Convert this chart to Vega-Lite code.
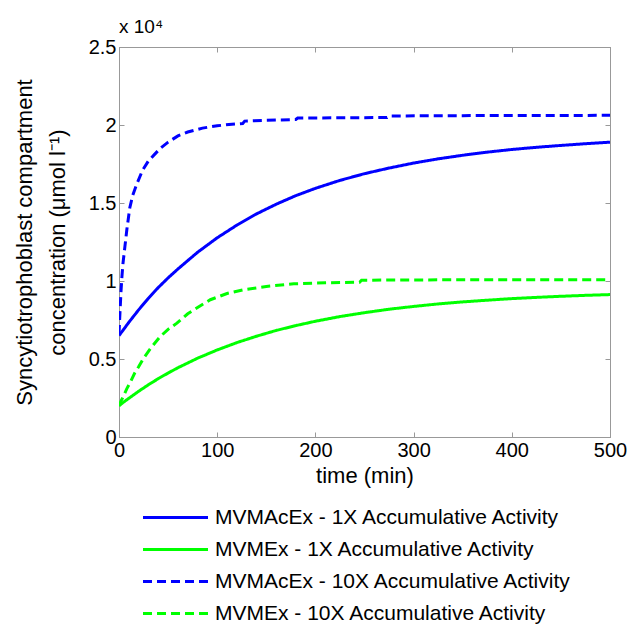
{
  "$schema": "https://vega.github.io/schema/vega-lite/v6.json",
  "width": 491,
  "height": 390,
  "autosize": {"type": "none"},
  "padding": {"left": 119, "top": 47, "right": 31, "bottom": 187},
  "title": {"text": "x 10⁴", "anchor": "start", "frame": "group", "fontSize": 19, "fontWeight": "normal", "font": "Liberation Sans", "color": "#000000", "offset": 0},
  "config": {
    "view": {"stroke": "#999999", "strokeWidth": 1},
    "axis": {"domainColor": "#999999", "tickColor": "#999999", "labelColor": "#000000", "labelFont": "Liberation Sans", "labelFontSize": 20, "titleFont": "Liberation Sans", "titleFontSize": 22, "titleFontWeight": "normal", "titleColor": "#000000", "grid": false, "tickSize": -5, "labelPadding": 8, "format": "~r", "labelFlush": false},
    "legend": {"labelFont": "Liberation Sans", "labelFontSize": 21, "labelColor": "#000000", "labelLimit": 600}
  },
  "data": {"values": [
    {"t": 0, "v": 0.65, "series": "MVMAcEx - 1X Accumulative Activity"},
    {"t": 5, "v": 0.692, "series": "MVMAcEx - 1X Accumulative Activity"},
    {"t": 10, "v": 0.735, "series": "MVMAcEx - 1X Accumulative Activity"},
    {"t": 20, "v": 0.815, "series": "MVMAcEx - 1X Accumulative Activity"},
    {"t": 30, "v": 0.89, "series": "MVMAcEx - 1X Accumulative Activity"},
    {"t": 40, "v": 0.958, "series": "MVMAcEx - 1X Accumulative Activity"},
    {"t": 50, "v": 1.02, "series": "MVMAcEx - 1X Accumulative Activity"},
    {"t": 60, "v": 1.077, "series": "MVMAcEx - 1X Accumulative Activity"},
    {"t": 80, "v": 1.184, "series": "MVMAcEx - 1X Accumulative Activity"},
    {"t": 100, "v": 1.277, "series": "MVMAcEx - 1X Accumulative Activity"},
    {"t": 120, "v": 1.358, "series": "MVMAcEx - 1X Accumulative Activity"},
    {"t": 140, "v": 1.43, "series": "MVMAcEx - 1X Accumulative Activity"},
    {"t": 160, "v": 1.492, "series": "MVMAcEx - 1X Accumulative Activity"},
    {"t": 180, "v": 1.547, "series": "MVMAcEx - 1X Accumulative Activity"},
    {"t": 200, "v": 1.594, "series": "MVMAcEx - 1X Accumulative Activity"},
    {"t": 225, "v": 1.645, "series": "MVMAcEx - 1X Accumulative Activity"},
    {"t": 250, "v": 1.688, "series": "MVMAcEx - 1X Accumulative Activity"},
    {"t": 275, "v": 1.724, "series": "MVMAcEx - 1X Accumulative Activity"},
    {"t": 300, "v": 1.756, "series": "MVMAcEx - 1X Accumulative Activity"},
    {"t": 325, "v": 1.783, "series": "MVMAcEx - 1X Accumulative Activity"},
    {"t": 350, "v": 1.806, "series": "MVMAcEx - 1X Accumulative Activity"},
    {"t": 375, "v": 1.826, "series": "MVMAcEx - 1X Accumulative Activity"},
    {"t": 400, "v": 1.843, "series": "MVMAcEx - 1X Accumulative Activity"},
    {"t": 425, "v": 1.857, "series": "MVMAcEx - 1X Accumulative Activity"},
    {"t": 450, "v": 1.869, "series": "MVMAcEx - 1X Accumulative Activity"},
    {"t": 475, "v": 1.88, "series": "MVMAcEx - 1X Accumulative Activity"},
    {"t": 500, "v": 1.89, "series": "MVMAcEx - 1X Accumulative Activity"},

    {"t": 0, "v": 0.2, "series": "MVMEx - 1X Accumulative Activity"},
    {"t": 5, "v": 0.225, "series": "MVMEx - 1X Accumulative Activity"},
    {"t": 10, "v": 0.248, "series": "MVMEx - 1X Accumulative Activity"},
    {"t": 20, "v": 0.293, "series": "MVMEx - 1X Accumulative Activity"},
    {"t": 30, "v": 0.335, "series": "MVMEx - 1X Accumulative Activity"},
    {"t": 40, "v": 0.374, "series": "MVMEx - 1X Accumulative Activity"},
    {"t": 50, "v": 0.41, "series": "MVMEx - 1X Accumulative Activity"},
    {"t": 60, "v": 0.444, "series": "MVMEx - 1X Accumulative Activity"},
    {"t": 80, "v": 0.505, "series": "MVMEx - 1X Accumulative Activity"},
    {"t": 100, "v": 0.558, "series": "MVMEx - 1X Accumulative Activity"},
    {"t": 120, "v": 0.605, "series": "MVMEx - 1X Accumulative Activity"},
    {"t": 140, "v": 0.646, "series": "MVMEx - 1X Accumulative Activity"},
    {"t": 160, "v": 0.683, "series": "MVMEx - 1X Accumulative Activity"},
    {"t": 180, "v": 0.714, "series": "MVMEx - 1X Accumulative Activity"},
    {"t": 200, "v": 0.742, "series": "MVMEx - 1X Accumulative Activity"},
    {"t": 225, "v": 0.772, "series": "MVMEx - 1X Accumulative Activity"},
    {"t": 250, "v": 0.797, "series": "MVMEx - 1X Accumulative Activity"},
    {"t": 275, "v": 0.819, "series": "MVMEx - 1X Accumulative Activity"},
    {"t": 300, "v": 0.837, "series": "MVMEx - 1X Accumulative Activity"},
    {"t": 325, "v": 0.853, "series": "MVMEx - 1X Accumulative Activity"},
    {"t": 350, "v": 0.866, "series": "MVMEx - 1X Accumulative Activity"},
    {"t": 375, "v": 0.877, "series": "MVMEx - 1X Accumulative Activity"},
    {"t": 400, "v": 0.887, "series": "MVMEx - 1X Accumulative Activity"},
    {"t": 425, "v": 0.895, "series": "MVMEx - 1X Accumulative Activity"},
    {"t": 450, "v": 0.902, "series": "MVMEx - 1X Accumulative Activity"},
    {"t": 475, "v": 0.908, "series": "MVMEx - 1X Accumulative Activity"},
    {"t": 500, "v": 0.913, "series": "MVMEx - 1X Accumulative Activity"},

    {"t": 0, "v": 0.66, "series": "MVMAcEx - 10X Accumulative Activity"},
    {"t": 1, "v": 0.8, "series": "MVMAcEx - 10X Accumulative Activity"},
    {"t": 2, "v": 0.93, "series": "MVMAcEx - 10X Accumulative Activity"},
    {"t": 3, "v": 1.03, "series": "MVMAcEx - 10X Accumulative Activity"},
    {"t": 4, "v": 1.11, "series": "MVMAcEx - 10X Accumulative Activity"},
    {"t": 6, "v": 1.22, "series": "MVMAcEx - 10X Accumulative Activity"},
    {"t": 8, "v": 1.33, "series": "MVMAcEx - 10X Accumulative Activity"},
    {"t": 11, "v": 1.47, "series": "MVMAcEx - 10X Accumulative Activity"},
    {"t": 14, "v": 1.55, "series": "MVMAcEx - 10X Accumulative Activity"},
    {"t": 18, "v": 1.62, "series": "MVMAcEx - 10X Accumulative Activity"},
    {"t": 24, "v": 1.71, "series": "MVMAcEx - 10X Accumulative Activity"},
    {"t": 30, "v": 1.77, "series": "MVMAcEx - 10X Accumulative Activity"},
    {"t": 36, "v": 1.81, "series": "MVMAcEx - 10X Accumulative Activity"},
    {"t": 42, "v": 1.85, "series": "MVMAcEx - 10X Accumulative Activity"},
    {"t": 50, "v": 1.89, "series": "MVMAcEx - 10X Accumulative Activity"},
    {"t": 60, "v": 1.93, "series": "MVMAcEx - 10X Accumulative Activity"},
    {"t": 70, "v": 1.955, "series": "MVMAcEx - 10X Accumulative Activity"},
    {"t": 85, "v": 1.98, "series": "MVMAcEx - 10X Accumulative Activity"},
    {"t": 100, "v": 1.995, "series": "MVMAcEx - 10X Accumulative Activity"},
    {"t": 115, "v": 2.005, "series": "MVMAcEx - 10X Accumulative Activity"},
    {"t": 126, "v": 2.01, "series": "MVMAcEx - 10X Accumulative Activity"},
    {"t": 128, "v": 2.025, "series": "MVMAcEx - 10X Accumulative Activity"},
    {"t": 150, "v": 2.03, "series": "MVMAcEx - 10X Accumulative Activity"},
    {"t": 180, "v": 2.035, "series": "MVMAcEx - 10X Accumulative Activity"},
    {"t": 182, "v": 2.045, "series": "MVMAcEx - 10X Accumulative Activity"},
    {"t": 220, "v": 2.046, "series": "MVMAcEx - 10X Accumulative Activity"},
    {"t": 273, "v": 2.048, "series": "MVMAcEx - 10X Accumulative Activity"},
    {"t": 275, "v": 2.058, "series": "MVMAcEx - 10X Accumulative Activity"},
    {"t": 350, "v": 2.06, "series": "MVMAcEx - 10X Accumulative Activity"},
    {"t": 500, "v": 2.062, "series": "MVMAcEx - 10X Accumulative Activity"},

    {"t": 0, "v": 0.2, "series": "MVMEx - 10X Accumulative Activity"},
    {"t": 2, "v": 0.23, "series": "MVMEx - 10X Accumulative Activity"},
    {"t": 4.4, "v": 0.26, "series": "MVMEx - 10X Accumulative Activity"},
    {"t": 8, "v": 0.31, "series": "MVMEx - 10X Accumulative Activity"},
    {"t": 11, "v": 0.345, "series": "MVMEx - 10X Accumulative Activity"},
    {"t": 16, "v": 0.41, "series": "MVMEx - 10X Accumulative Activity"},
    {"t": 20, "v": 0.45, "series": "MVMEx - 10X Accumulative Activity"},
    {"t": 25, "v": 0.505, "series": "MVMEx - 10X Accumulative Activity"},
    {"t": 33, "v": 0.575, "series": "MVMEx - 10X Accumulative Activity"},
    {"t": 42, "v": 0.644, "series": "MVMEx - 10X Accumulative Activity"},
    {"t": 50, "v": 0.69, "series": "MVMEx - 10X Accumulative Activity"},
    {"t": 59, "v": 0.73, "series": "MVMEx - 10X Accumulative Activity"},
    {"t": 70, "v": 0.79, "series": "MVMEx - 10X Accumulative Activity"},
    {"t": 80, "v": 0.83, "series": "MVMEx - 10X Accumulative Activity"},
    {"t": 93, "v": 0.88, "series": "MVMEx - 10X Accumulative Activity"},
    {"t": 110, "v": 0.92, "series": "MVMEx - 10X Accumulative Activity"},
    {"t": 127, "v": 0.944, "series": "MVMEx - 10X Accumulative Activity"},
    {"t": 150, "v": 0.965, "series": "MVMEx - 10X Accumulative Activity"},
    {"t": 178, "v": 0.982, "series": "MVMEx - 10X Accumulative Activity"},
    {"t": 210, "v": 0.988, "series": "MVMEx - 10X Accumulative Activity"},
    {"t": 245, "v": 0.992, "series": "MVMEx - 10X Accumulative Activity"},
    {"t": 247, "v": 1.005, "series": "MVMEx - 10X Accumulative Activity"},
    {"t": 300, "v": 1.007, "series": "MVMEx - 10X Accumulative Activity"},
    {"t": 400, "v": 1.008, "series": "MVMEx - 10X Accumulative Activity"},
    {"t": 500, "v": 1.008, "series": "MVMEx - 10X Accumulative Activity"}
  ]},
  "layer": [
    {
      "mark": {"type": "line", "strokeWidth": 3, "clip": true},
      "encoding": {
        "x": {"field": "t", "type": "quantitative", "scale": {"domain": [0, 500], "nice": false}, "axis": {"orient": "bottom", "values": [0, 100, 200, 300, 400, 500], "title": "time (min)", "titlePadding": 5}},
        "y": {"field": "v", "type": "quantitative", "scale": {"domain": [0, 2.5], "nice": false}, "axis": {"orient": "left", "values": [0, 0.5, 1, 1.5, 2, 2.5], "title": ["Syncytiotrophoblast compartment", "concentration (μmol l⁻¹)"], "titlePadding": 19, "titleLineHeight": 33}},
        "color": {"field": "series", "type": "nominal", "scale": {"domain": ["MVMAcEx - 1X Accumulative Activity", "MVMEx - 1X Accumulative Activity", "MVMAcEx - 10X Accumulative Activity", "MVMEx - 10X Accumulative Activity"], "range": ["#0000ff", "#00ff00", "#0000ff", "#00ff00"]}, "legend": {"orient": "none", "legendX": 46, "legendY": 460, "direction": "vertical", "title": null, "symbolType": "M-4,0H4", "symbolSize": 264, "symbolStrokeWidth": 3, "labelOffset": 29, "rowPadding": 10}},
        "strokeDash": {"field": "series", "type": "nominal", "scale": {"domain": ["MVMAcEx - 1X Accumulative Activity", "MVMEx - 1X Accumulative Activity", "MVMAcEx - 10X Accumulative Activity", "MVMEx - 10X Accumulative Activity"], "range": [[1, 0], [1, 0], [9, 5], [9, 5]]}, "legend": {"orient": "none", "legendX": 46, "legendY": 460, "direction": "vertical", "title": null, "symbolType": "M-4,0H4", "symbolSize": 264, "symbolStrokeWidth": 3, "labelOffset": 29, "rowPadding": 10}}
      }
    },
    {
      "mark": {"type": "point", "opacity": 0},
      "encoding": {
        "x": {"field": "t", "type": "quantitative", "axis": {"orient": "top", "values": [0, 100, 200, 300, 400, 500], "labels": false, "title": null}},
        "y": {"field": "v", "type": "quantitative", "axis": {"orient": "right", "values": [0, 0.5, 1, 1.5, 2, 2.5], "labels": false, "title": null}}
      }
    }
  ],
  "resolve": {"axis": {"x": "independent", "y": "independent"}}
}
